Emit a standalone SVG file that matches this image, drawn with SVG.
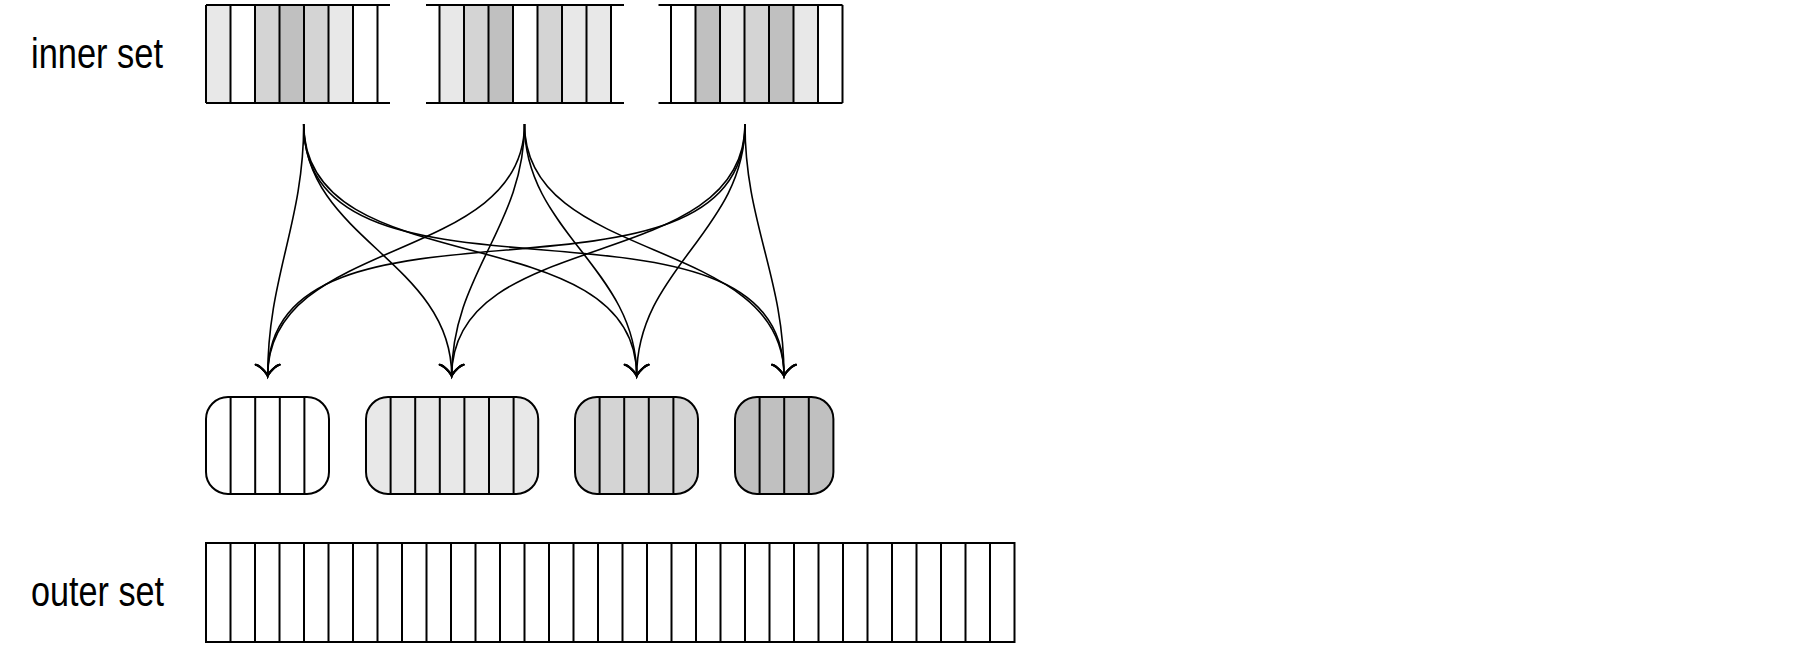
<svg xmlns="http://www.w3.org/2000/svg" width="1800" height="651" viewBox="0 0 1800 651">
<style>
.lbl{font-family:"Liberation Sans Narrow","Liberation Sans",Arial,sans-serif;font-size:43px;fill:#000}
.ln{stroke:#000;stroke-width:2;fill:none}
.w{fill:#fff}.l{fill:#e8e8e8}.m{fill:#d4d4d4}.d{fill:#c0c0c0}
.cn{stroke:#000;stroke-width:1.6;fill:none;marker-end:url(#ah)}
</style>
<defs>
<marker id="ah" markerUnits="userSpaceOnUse" orient="auto" refX="0" refY="0" markerWidth="30" markerHeight="30" viewBox="-15 -15 30 30" overflow="visible">
<path d="M-11.25,-12 C-10.5,-7.5 -2.25,-0.75 0,0 C-2.25,0.75 -10.5,7.5 -11.25,12" fill="none" stroke="#000" stroke-width="2" stroke-linecap="round"/>
</marker>
</defs>
<rect width="1800" height="651" fill="#fff"/>
<g id="label-inner"><text class="lbl" x="31" y="68" textLength="132" lengthAdjust="spacingAndGlyphs">inner set</text></g>
<g id="label-outer"><text class="lbl" x="31" y="606" textLength="133" lengthAdjust="spacingAndGlyphs">outer set</text></g>
<g id="inner-1">
<rect class="l" x="206" y="5" width="24.5" height="98"/>
<rect class="w" x="230.5" y="5" width="24.5" height="98"/>
<rect class="m" x="255" y="5" width="24.5" height="98"/>
<rect class="d" x="279.5" y="5" width="24.5" height="98"/>
<rect class="m" x="304" y="5" width="24.5" height="98"/>
<rect class="l" x="328.5" y="5" width="24.5" height="98"/>
<rect class="w" x="353" y="5" width="24.5" height="98"/>
<path class="ln" d="M206,5H390M206,103H390M206,5V103M230.5,5V103M255,5V103M279.5,5V103M304,5V103M328.5,5V103M353,5V103M377.5,5V103"/>
</g>
<g id="inner-2">
<rect class="l" x="439.5" y="5" width="24.5" height="98"/>
<rect class="m" x="464" y="5" width="24.5" height="98"/>
<rect class="d" x="488.5" y="5" width="24.5" height="98"/>
<rect class="w" x="513" y="5" width="24.5" height="98"/>
<rect class="m" x="537.5" y="5" width="24.5" height="98"/>
<rect class="l" x="562" y="5" width="24.5" height="98"/>
<rect class="l" x="586.5" y="5" width="24.5" height="98"/>
<path class="ln" d="M426,5H624M426,103H624M439.5,5V103M464,5V103M488.5,5V103M513,5V103M537.5,5V103M562,5V103M586.5,5V103M611,5V103"/>
</g>
<g id="inner-3">
<rect class="w" x="671" y="5" width="24.5" height="98"/>
<rect class="d" x="695.5" y="5" width="24.5" height="98"/>
<rect class="l" x="720" y="5" width="24.5" height="98"/>
<rect class="m" x="744.5" y="5" width="24.5" height="98"/>
<rect class="d" x="769" y="5" width="24.5" height="98"/>
<rect class="l" x="793.5" y="5" width="24.5" height="98"/>
<rect class="w" x="818" y="5" width="24.5" height="98"/>
<path class="ln" d="M658.5,5H842.5M658.5,103H842.5M671,5V103M695.5,5V103M720,5V103M744.5,5V103M769,5V103M793.5,5V103M818,5V103M842.5,5V103"/>
</g>
<g id="connectors">
<path class="cn" d="M303.7,124 C303.7,223.7 267.7,276.3 267.7,376"/>
<path class="cn" d="M303.7,124 C303.7,238.4 451.7,261.6 451.7,376"/>
<path class="cn" d="M303.7,124 C303.7,287.5 636.7,212.5 636.7,376"/>
<path class="cn" d="M303.7,124 C303.7,336.4 784,163.6 784,376"/>
<path class="cn" d="M524.5,124 C524.5,264.9 267.7,235.1 267.7,376"/>
<path class="cn" d="M524.5,124 C524.5,226.7 451.7,273.3 451.7,376"/>
<path class="cn" d="M524.5,124 C524.5,232 636.7,268 636.7,376"/>
<path class="cn" d="M524.5,124 C524.5,265.6 784,234.4 784,376"/>
<path class="cn" d="M745,124 C745,335.3 267.7,164.7 267.7,376"/>
<path class="cn" d="M745,124 C745,275.4 451.7,224.6 451.7,376"/>
<path class="cn" d="M745,124 C745,231.4 636.7,268.6 636.7,376"/>
<path class="cn" d="M745,124 C745,223.8 784,276.2 784,376"/>
</g>
<g id="mid-1">
<rect class="w" x="206" y="397" width="123" height="97" rx="22" ry="22"/>
<path class="ln" d="M230.6,397V494M255.2,397V494M279.8,397V494M304.4,397V494"/>
<rect class="ln" x="206" y="397" width="123" height="97" rx="22" ry="22"/>
</g>
<g id="mid-2">
<rect class="l" x="366" y="397" width="172.2" height="97" rx="22" ry="22"/>
<path class="ln" d="M390.6,397V494M415.2,397V494M439.8,397V494M464.4,397V494M489,397V494M513.6,397V494"/>
<rect class="ln" x="366" y="397" width="172.2" height="97" rx="22" ry="22"/>
</g>
<g id="mid-3">
<rect class="m" x="575" y="397" width="123" height="97" rx="22" ry="22"/>
<path class="ln" d="M599.6,397V494M624.2,397V494M648.8,397V494M673.4,397V494"/>
<rect class="ln" x="575" y="397" width="123" height="97" rx="22" ry="22"/>
</g>
<g id="mid-4">
<rect class="d" x="735" y="397" width="98.4" height="97" rx="22" ry="22"/>
<path class="ln" d="M759.6,397V494M784.2,397V494M808.8,397V494"/>
<rect class="ln" x="735" y="397" width="98.4" height="97" rx="22" ry="22"/>
</g>
<g id="outer">
<rect class="w" x="206" y="543" width="808.5" height="99"/>
<path class="ln" d="M230.5,543V642M255,543V642M279.5,543V642M304,543V642M328.5,543V642M353,543V642M377.5,543V642M402,543V642M426.5,543V642M451,543V642M475.5,543V642M500,543V642M524.5,543V642M549,543V642M573.5,543V642M598,543V642M622.5,543V642M647,543V642M671.5,543V642M696,543V642M720.5,543V642M745,543V642M769.5,543V642M794,543V642M818.5,543V642M843,543V642M867.5,543V642M892,543V642M916.5,543V642M941,543V642M965.5,543V642M990,543V642"/>
<rect class="ln" x="206" y="543" width="808.5" height="99"/>
</g>
</svg>
